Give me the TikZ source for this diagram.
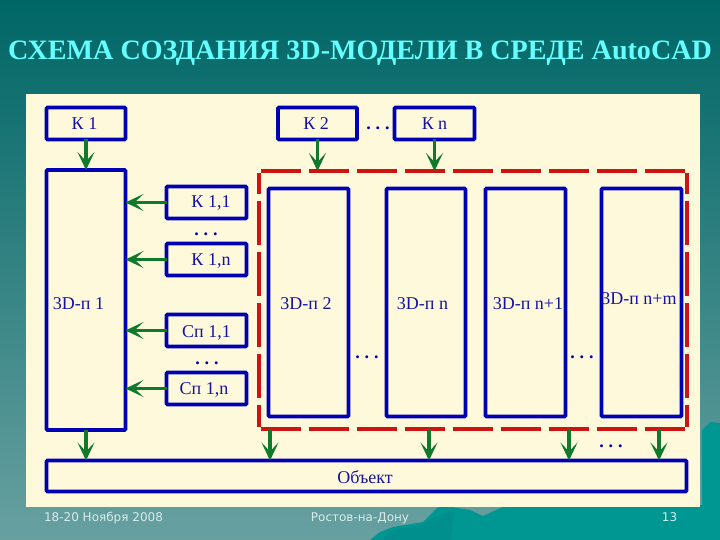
\documentclass[tikz,border=0pt]{standalone}
\usepackage{fontspec}
\setmainfont{Liberation Serif}
\newfontfamily\footfont{DejaVu Sans}
\usetikzlibrary{arrows.meta}
\definecolor{bluebox}{HTML}{0000B4}
\definecolor{bluetext}{HTML}{1414A0}
\definecolor{redframe}{HTML}{CE1410}
\definecolor{greenarrow}{HTML}{0F7A2C}
\definecolor{panelbg}{HTML}{FFF9DC}
\definecolor{titlecol}{HTML}{66FFFF}
\definecolor{footcol}{HTML}{D8ECEC}
\definecolor{mount}{HTML}{009793}
\definecolor{mountdark}{HTML}{008F8C}
\definecolor{bgtop}{HTML}{006666}
\definecolor{bgbot}{HTML}{68A0A0}
\newcommand\tb[3]{\smash{\makebox[0pt]{\hspace*{#1pt}\raisebox{#2pt}{#3}}}}
\tikzset{
  box/.style={draw=bluebox,line width=3.7pt,rounded corners=1pt,inner sep=0pt,outer sep=0pt,
    text=bluetext,font=\fontsize{18}{20}\selectfont},
  conn/.style={draw=greenarrow,line width=3.6pt,-{Stealth[length=18pt,width=17pt,inset=9pt]}},
  dotsnode/.style={text=bluebox,inner sep=0pt,anchor=base,font=\fontsize{18}{20}\selectfont\bfseries},
  foot/.style={text=footcol,inner sep=0pt,anchor=base,font=\fontsize{12}{14}\footfont},
  hdash/.style={draw=redframe,line width=4pt,dash pattern=on 40pt off 8pt},
  vdash/.style={draw=redframe,line width=4pt,dash pattern=on 44pt off 7pt}
}
\begin{document}
\begin{tikzpicture}[x=1pt,y=-1pt]
\useasboundingbox (0,0) rectangle (720,540);
\shade[top color=bgtop,bottom color=bgbot] (0,0) rectangle (720,540);
% mountains
\fill[mount] (720,540) -- (370,540) -- (380,532) -- (393,527) -- (423,522) -- (430,515) -- (440,505) -- (470,510) -- (483,516) -- (507,505) -- (702,505) -- (702,430) -- (710,422) -- (720,423) -- cycle;
\fill[mountdark] (380,540) -- (395,529) -- (423,525) -- (432,518) -- (455,510) -- (450,540) -- cycle;
% panel
\node[fill=panelbg,minimum width=674,minimum height=413,inner sep=0,outer sep=0] (panel) at (363,300.5) {};
% title
\node[text=titlecol,inner sep=0,anchor=base,font=\fontsize{28.1}{30}\selectfont\bfseries] (title) at (360,59.5) {СХЕМА СОЗДАНИЯ 3D-МОДЕЛИ В СРЕДЕ AutoCAD};
% boxes
\node[box,minimum width=79,minimum height=32] (k1) at (86,123.5) {\tb{-3}{-6.5}{К 1}};
\node[box,minimum width=79,minimum height=260] (p1) at (86,300) {\tb{-15}{-9}{3D-п 1}};
\node[box,minimum width=79,minimum height=32] (k2) at (317.5,123.5) {\tb{-3}{-6.5}{К 2}};
\node[box,minimum width=80,minimum height=32] (kn) at (434.5,123.5) {\tb{0}{-6.5}{К n}};
\node[box,minimum width=80,minimum height=32] (k11) at (206.5,202.5) {\tb{9}{-5.5}{К 1,1}};
\node[box,minimum width=80,minimum height=32] (k1n) at (206.5,259.5) {\tb{9}{-5.5}{К 1,n}};
\node[box,minimum width=80,minimum height=32] (s11) at (206.5,330.5) {\tb{0}{-6.5}{Сп 1,1}};
\node[box,minimum width=80,minimum height=32] (s1n) at (206.5,388.5) {\tb{-5}{-5.5}{Сп 1,n}};
\node[box,minimum width=80,minimum height=228] (p2) at (308.5,302.5) {\tb{-5}{-6.5}{3D-п 2}};
\node[box,minimum width=79,minimum height=228] (pn) at (426,302.5) {\tb{-7}{-6.5}{3D-п n}};
\node[box,minimum width=80,minimum height=228] (pn1) at (525.5,302.5) {\tb{5}{-6.5}{3D-п n+1}};
\node[box,minimum width=80,minimum height=228] (pnm) at (641.5,302.5) {\tb{-5}{-1.5}{3D-п n+m}};
\node[box,minimum width=640,minimum height=31] (obj) at (366.5,476) {\tb{-3}{-7}{Объект}};
% red frame
\coordinate (ftl) at (259,171);
\coordinate (ftr) at (687,171);
\coordinate (fbl) at (259,429);
\coordinate (fbr) at (687,429);
\draw[hdash] ([xshift=2pt]ftl) -- (ftr);
\draw[hdash] ([xshift=2pt]fbl) -- (fbr);
\draw[vdash,dash phase=23] ([yshift=-2pt]ftl) -- ([yshift=2pt]fbl);
\draw[vdash,dash phase=23] ([yshift=-2pt]ftr) -- ([yshift=2pt]fbr);
% arrows
\draw[conn] (k1.south) -- (p1.north);
\draw[conn] (k2.south) -- (k2.south |- ftl);
\draw[conn] (kn.south) -- (kn.south |- ftl);
\draw[conn] (k11.west) -- (k11.west -| p1.east);
\draw[conn] (k1n.west) -- (k1n.west -| p1.east);
\draw[conn] (s11.west) -- (s11.west -| p1.east);
\draw[conn] (s1n.west) -- (s1n.west -| p1.east);
\draw[conn] (p1.south) -- (p1.south |- obj.north);
\coordinate (d1) at (270,429);
\coordinate (d2) at (429,429);
\coordinate (d3) at (569,429);
\coordinate (d4) at (659,429);
\draw[conn] (d1) -- (d1 |- obj.north);
\draw[conn] (d2) -- (d2 |- obj.north);
\draw[conn] (d3) -- (d3 |- obj.north);
\draw[conn] (d4) -- (d4 |- obj.north);
% dots
\node[dotsnode] (dots1) at (378,130) {.\kern5pt.\kern5pt.};
\node[dotsnode] (dots2) at (206,236) {.\kern5pt.\kern5pt.};
\node[dotsnode] (dots3) at (207,364) {.\kern5pt.\kern5pt.};
\node[dotsnode] (dots4) at (367,358) {.\kern5pt.\kern5pt.};
\node[dotsnode] (dots5) at (582,358) {.\kern5pt.\kern5pt.};
\node[dotsnode] (dots6) at (611,447) {.\kern5pt.\kern5pt.};
% footer
\node[foot] (f1) at (103.5,521) {18-20 Ноября 2008};
\node[foot] (f2) at (360,521) {Ростов-на-Дону};
\node[foot] (f3) at (669.5,521) {13};
\end{tikzpicture}
\end{document}
